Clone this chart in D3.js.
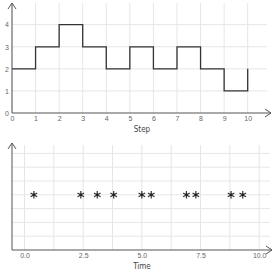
<!DOCTYPE html>
<html>
<head>
<meta charset="utf-8">
<script src="https://cdn.jsdelivr.net/npm/d3@7"></script>
<style>
  body { margin: 0; background: #fff; }
  svg { display: block; font-family: "Liberation Sans Narrow", "DejaVu Sans Condensed", sans-serif; }
  .grid line { stroke: #e6e6e6; stroke-width: 1; }
  .tick text { fill: #666; font-size: 7px; }
  .lbl { fill: #444; font-size: 8px; }
</style>
</head>
<body>
<div id="chart"></div>
<script>
// step chart
const steps = [0, 1, 2, 3, 4, 5, 6, 7, 8, 9, 10];
const levels = [2, 3, 4, 3, 2, 3, 2, 3, 2, 1, 2];
const stepTicks = [0, 1, 2, 3, 4, 5, 6, 7, 8, 9, 10];
const levelTicks = [0, 1, 2, 3, 4];

// event times
const times = [0.4, 2.4, 3.1, 3.8, 5.0, 5.4, 6.9, 7.3, 8.8, 9.3];
const timeTicks = [0, 2.5, 5, 7.5, 10];
const timeGrid = [0, 1.25, 2.5, 3.75, 5, 6.25, 7.5, 8.75, 10];
const rowGrid = [0.25, 0.5, 0.75, 1, 1.25, 1.5, 1.75];

const W = 273, H = 273;
const axisColor = '#555';

const svg = d3.select('#chart').append('svg')
  .attr('width', W)
  .attr('height', H);

function arrowUp(g, x, y) {
  g.append('path')
    .attr('d', `M${x - 4},${y + 6}L${x},${y}L${x + 4},${y + 6}`)
    .attr('fill', 'none').attr('stroke', axisColor).attr('stroke-width', 1);
}
function arrowRight(g, x, y) {
  g.append('path')
    .attr('d', `M${x - 6},${y - 4}L${x},${y}L${x - 6},${y + 4}`)
    .attr('fill', 'none').attr('stroke', axisColor).attr('stroke-width', 1);
}

// ---- top panel
const x1 = d3.scaleLinear().domain([0, 10]).range([12, 247.7]);
const y1 = d3.scaleLinear().domain([0, 4]).range([113, 24.7]);

const upper = svg.append('g');
const g1 = upper.append('g').attr('class', 'grid');
g1.selectAll('.v').data(stepTicks).enter().append('line')
  .attr('x1', d => x1(d)).attr('x2', d => x1(d))
  .attr('y1', 3).attr('y2', 113);
g1.selectAll('.h').data(levelTicks.slice(1)).enter().append('line')
  .attr('x1', 12).attr('x2', 267)
  .attr('y1', d => y1(d)).attr('y2', d => y1(d));

upper.append('path')
  .datum(steps.map((s, i) => [s, levels[i]]))
  .attr('fill', 'none')
  .attr('stroke', '#333')
  .attr('stroke-width', 1.3)
  .attr('d', d3.line().x(d => x1(d[0])).y(d => y1(d[1])).curve(d3.curveStepAfter));

upper.append('g')
  .attr('transform', 'translate(0,113)')
  .call(d3.axisBottom(x1).tickValues(stepTicks).tickFormat(d3.format('d')).tickSize(0).tickPadding(3))
  .call(g => g.select('.domain').remove());
upper.append('g')
  .attr('transform', 'translate(12,0)')
  .call(d3.axisLeft(y1).tickValues(levelTicks).tickFormat(d3.format('d')).tickSize(0).tickPadding(3))
  .call(g => g.select('.domain').remove());

upper.append('line').attr('x1', 12).attr('x2', 271).attr('y1', 113).attr('y2', 113)
  .attr('stroke', axisColor);
upper.append('line').attr('x1', 12).attr('x2', 12).attr('y1', 113).attr('y2', 3)
  .attr('stroke', axisColor);
arrowRight(upper, 271, 113);
arrowUp(upper, 12, 3);
upper.append('text').attr('class', 'lbl')
  .attr('x', 142).attr('y', 132).attr('text-anchor', 'middle').text('Step');

// ---- bottom panel
const x2 = d3.scaleLinear().domain([0, 10]).range([24.5, 259.2]);
const y2 = d3.scaleLinear().domain([0, 1]).range([250, 194.8]);

const lower = svg.append('g');
const g2 = lower.append('g').attr('class', 'grid');
g2.selectAll('.v').data(timeGrid).enter().append('line')
  .attr('x1', d => x2(d)).attr('x2', d => x2(d))
  .attr('y1', 145).attr('y2', 250);
g2.selectAll('.h').data(rowGrid).enter().append('line')
  .attr('x1', 12).attr('x2', 270)
  .attr('y1', d => y2(d)).attr('y2', d => y2(d));

const pts = lower.selectAll('.pt').data(times).enter().append('g')
  .attr('transform', d => `translate(${x2(d)},${y2(1)})`);
pts.append('path')
  .attr('d', d3.symbol(d3.symbolAsterisk, 40))
  .attr('fill', 'none')
  .attr('stroke', '#333')
  .attr('stroke-width', 1.2);
pts.append('path')
  .attr('d', d3.symbol(d3.symbolCross, 14).toString())
  .attr('transform', 'rotate(90)')
  .attr('fill', 'none')
  .attr('stroke', '#333')
  .attr('stroke-width', 1);
pts.append('circle').attr('r', 1.3).attr('fill', '#222');

lower.append('g')
  .attr('transform', 'translate(0,250)')
  .call(d3.axisBottom(x2).tickValues(timeTicks).tickFormat(d3.format('.1f')).tickSize(0).tickPadding(3))
  .call(g => g.select('.domain').remove());

lower.append('line').attr('x1', 12).attr('x2', 272).attr('y1', 250).attr('y2', 250)
  .attr('stroke', axisColor);
lower.append('line').attr('x1', 12).attr('x2', 12).attr('y1', 250).attr('y2', 143)
  .attr('stroke', axisColor);
arrowRight(lower, 272, 250);
arrowUp(lower, 12, 143);
lower.append('text').attr('class', 'lbl')
  .attr('x', 142).attr('y', 269).attr('text-anchor', 'middle').text('Time');
</script>
</body>
</html>
